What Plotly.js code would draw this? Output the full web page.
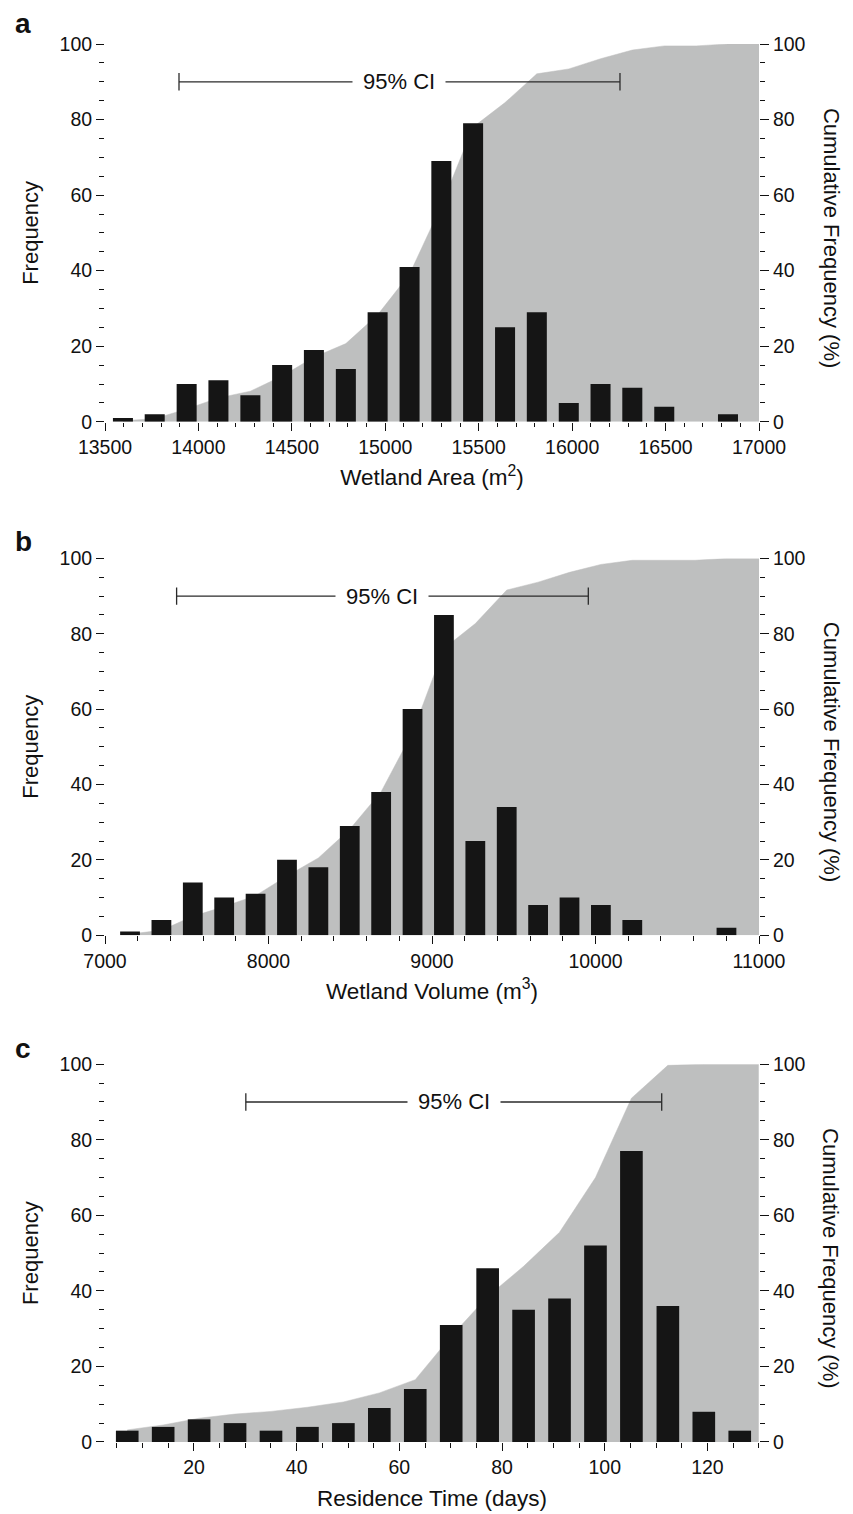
<!DOCTYPE html>
<html>
<head>
<meta charset="utf-8">
<script src="https://cdn.plot.ly/plotly-3.0.1.min.js"></script>
<style>html,body{margin:0;padding:0;background:#fff}</style>
</head>
<body>
<div id="chart" style="width:853px;height:1514px"></div>
<script>
// ---- Panel a: Wetland Area ----
const areaBins = [13596,13766,13937,14107,14278,14448,14618,14789,14959,15130,15300,15470,15641,15811,15982,16152,16322,16493,16663,16834];
const areaFreq = [1,2,10,11,7,15,19,14,29,41,69,79,25,29,5,10,9,4,0,2];
const areaCumX = [13596,13766,13937,14107,14278,14448,14618,14789,14959,15130,15300,15470,15641,15811,15982,16152,16322,16493,16663,16834,17000];
const areaCum  = [0.3,0.8,3.4,6.3,8.1,12.1,17.1,20.7,28.3,39.1,57.2,78.0,84.5,92.1,93.4,96.1,98.4,99.5,99.5,100,100];
const areaCI = [13896,16256];

// ---- Panel b: Wetland Volume ----
const volBins = [7153,7345,7537,7729,7921,8113,8305,8497,8689,8881,9073,9265,9457,9649,9841,10033,10225,10417,10609,10801];
const volFreq = [1,4,14,10,11,20,18,29,38,60,85,25,34,8,10,8,4,0,0,2];
const volCumX = [7153,7345,7537,7729,7921,8113,8305,8497,8689,8881,9073,9265,9457,9649,9841,10033,10225,10417,10609,10801,11000];
const volCum  = [0.3,1.3,5.0,7.6,10.5,15.7,20.5,28.1,38.1,53.8,76.1,82.7,91.6,93.7,96.3,98.4,99.5,99.5,99.5,100,100];
const volCI = [7438,9956];

// ---- Panel c: Residence Time ----
const resBins = [7.0,14.0,21.0,28.0,35.0,42.1,49.1,56.1,63.1,70.1,77.2,84.2,91.2,98.2,105.2,112.3,119.3,126.3];
const resFreq = [3,4,6,5,3,4,5,9,14,31,46,35,38,52,77,36,8,3];
const resCumX = [7.0,14.0,21.0,28.0,35.0,42.1,49.1,56.1,63.1,70.1,77.2,84.2,91.2,98.2,105.2,112.3,119.3,126.3,130];
const resCum  = [3.2,4.5,6.3,7.4,8.1,9.2,10.6,13.0,16.5,28.0,38.5,46.5,55.5,70.0,91.0,99.7,100,100,100];
const resCI = [30.1,111.1];

const ciLevel = 90;
const ciText = '95% CI';
const panelLetters = ['a','b','c'];
const xTitles = ['Wetland Area (m<sup>2</sup>)','Wetland Volume (m<sup>3</sup>)','Residence Time (days)'];
const yTitleL = 'Frequency';
const yTitleR = 'Cumulative Frequency (%)';

const INK = '#151515';
const GREY = '#bebfbf';
const FONT = 'Liberation Sans, Arial, Helvetica, sans-serif';

const panels = [
  {bins: areaBins, freq: areaFreq, cx: areaCumX, cy: areaCum, ci: areaCI, xr:[13500,17000], dtick:500, tick0:13500, minor:100},
  {bins: volBins,  freq: volFreq,  cx: volCumX,  cy: volCum,  ci: volCI,  xr:[7000,11000],  dtick:1000, tick0:7000, minor:200},
  {bins: resBins,  freq: resFreq,  cx: resCumX,  cy: resCum,  ci: resCI,  xr:[2.67,130.05], dtick:20,   tick0:0,    minor:5}
];

// plot area geometry (pixels)
const ML = 105, MR = 94, MT = 44, MB = 72.3;
const plotH = 1514 - MT - MB;
const panelPx = [[44,421.7],[558.3,935],[1064,1441.7]]; // top,bottom
const bottomPx = 1514 - MB;
function py2paper(py){ return (bottomPx - py)/plotH; }
function px2paper(px){ return (px - ML)/(853 - ML - MR); }

const traces = [];
const layout = {
  width: 853, height: 1514,
  margin: {l: ML, r: MR, t: MT, b: MB, pad: 0},
  paper_bgcolor: '#fff', plot_bgcolor: '#fff',
  showlegend: false,
  bargap: 0.37,
  font: {family: FONT, size: 19.5, color: '#111'},
  shapes: [], annotations: []
};

const tickCommon = {
  ticks: 'outside', ticklen: 8, tickwidth: 1, tickcolor: '#111',
  showline: true, linecolor: '#111', linewidth: 1,
  showgrid: false, zeroline: false, fixedrange: true,
  tickformat: 'd',
  tickfont: {family: FONT, size: 19.5, color: '#111'}
};

panels.forEach((p, i) => {
  const xa = i === 0 ? 'x' : 'x' + (i + 1);
  const yL = 'y' + (i === 0 ? '' : (2 * i + 1));
  const yR = 'y' + (2 * i + 2);
  const xaKey = 'xaxis' + (i === 0 ? '' : (i + 1));
  const yLKey = 'yaxis' + (i === 0 ? '' : (2 * i + 1));
  const yRKey = 'yaxis' + (2 * i + 2);
  const dom = [py2paper(panelPx[i][1]), py2paper(panelPx[i][0])];

  // cumulative frequency area (behind bars)
  traces.push({
    type: 'scatter', mode: 'lines', x: p.cx, y: p.cy, xaxis: xa, yaxis: yL, zorder: 0,
    fill: 'tozeroy', fillcolor: GREY, line: {color: GREY, width: 0.5, shape: 'linear'},
    hoverinfo: 'skip'
  });
  // frequency bars
  traces.push({
    type: 'bar', x: p.bins, y: p.freq, xaxis: xa, yaxis: yL, zorder: 1,
    marker: {color: INK, line: {width: 0}}, hoverinfo: 'skip'
  });
  // cumulative series referenced to the right-hand (%) axis, transparent (area above shows it)
  traces.push({
    type: 'scatter', mode: 'lines', x: p.cx, y: p.cy, xaxis: xa, yaxis: yR,
    line: {color: 'rgba(0,0,0,0)', width: 0}, opacity: 0, hoverinfo: 'skip'
  });

  layout[xaKey] = Object.assign({}, tickCommon, {
    anchor: yL, domain: [0, 1], range: p.xr, tick0: p.tick0, dtick: p.dtick,
    mirror: true,
    minor: {ticks: 'outside', dtick: p.minor, tick0: p.tick0, ticklen: 4.5, tickwidth: 1, tickcolor: '#111', showgrid: false},
    title: {text: xTitles[i], font: {family: FONT, size: 22.5, color: '#111'}, standoff: 12}
  });
  layout[yLKey] = Object.assign({}, tickCommon, {
    anchor: xa, domain: dom, range: [0, 100], dtick: 20, tick0: 0,
    minor: {ticks: 'outside', dtick: 5, ticklen: 5, tickwidth: 1, tickcolor: '#111', showgrid: false},
    title: {text: yTitleL, font: {family: FONT, size: 22, color: '#111'}, standoff: 14}
  });
  layout[yRKey] = Object.assign({}, tickCommon, {
    anchor: xa, overlaying: yL, side: 'right', range: [0, 100], dtick: 20, tick0: 0,
    ticklen: 9,
    minor: {ticks: 'outside', dtick: 5, ticklen: 5, tickwidth: 1, tickcolor: '#111', showgrid: false}
  });

  // right-hand axis title, reading top-to-bottom as in the reference
  layout.annotations.push({
    xref: 'paper', yref: 'paper', x: px2paper(831), y: py2paper((panelPx[i][0] + panelPx[i][1]) / 2 + 5),
    text: yTitleR, textangle: 90, showarrow: false, xanchor: 'center', yanchor: 'middle',
    font: {family: FONT, size: 22, color: '#111'}
  });

  // 95% CI bar
  const capLo = ciLevel - 2.3, capHi = ciLevel + 2.3;
  const ln = {color: '#2a2a2a', width: 1.3};
  layout.shapes.push({type: 'line', xref: xa, yref: yL, x0: p.ci[0], x1: p.ci[1], y0: ciLevel, y1: ciLevel, line: ln, layer: 'above'});
  layout.shapes.push({type: 'line', xref: xa, yref: yL, x0: p.ci[0], x1: p.ci[0], y0: capLo, y1: capHi, line: ln, layer: 'above'});
  layout.shapes.push({type: 'line', xref: xa, yref: yL, x0: p.ci[1], x1: p.ci[1], y0: capLo, y1: capHi, line: ln, layer: 'above'});
  layout.annotations.push({
    xref: xa, yref: yL, x: (p.ci[0] + p.ci[1]) / 2, y: ciLevel, text: ciText, showarrow: false,
    xanchor: 'center', yanchor: 'middle', bgcolor: '#fff', borderpad: 10,
    font: {family: FONT, size: 22, color: '#111'}
  });

  // panel letter
  const letterY = [23.5, 541.5, 1048.5][i];
  layout.annotations.push({
    xref: 'paper', yref: 'paper', x: px2paper(13), y: py2paper(letterY), text: '<b>' + panelLetters[i] + '</b>',
    showarrow: false, xanchor: 'left', yanchor: 'middle',
    font: {family: FONT, size: 28, color: '#111'}
  });
});

Plotly.newPlot('chart', traces, layout, {staticPlot: true, displayModeBar: false});
</script>
</body>
</html>
